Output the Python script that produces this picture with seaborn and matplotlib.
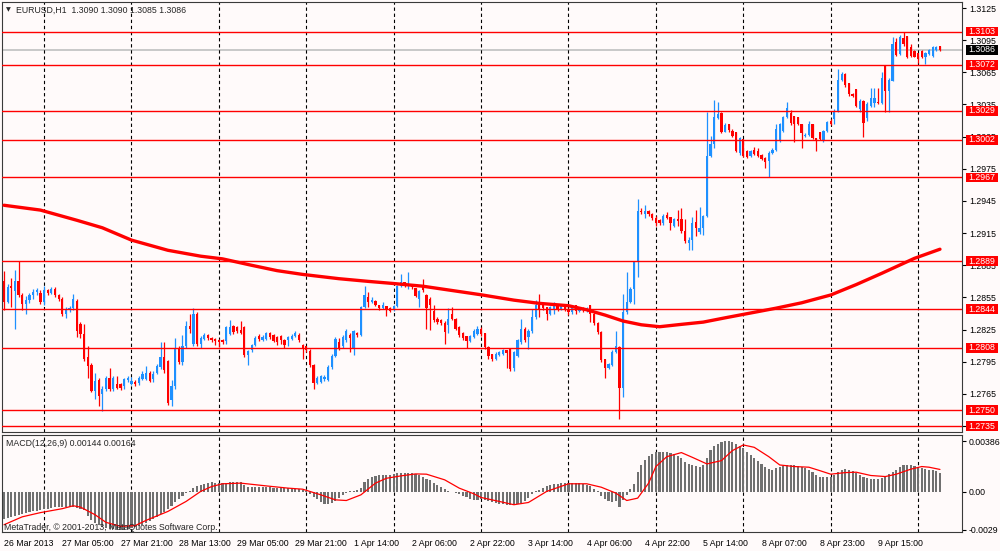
import matplotlib
matplotlib.use("Agg")
import numpy as np
import matplotlib.pyplot as plt
import matplotlib.transforms as mtrans
from matplotlib.patches import Rectangle
import seaborn as sns

# ---------------- data (prices in pips above 1.2700) ----------------
BASE = 1.2700
PIP = 0.0001

opens = [170,151,166,161,170,157,149,153,157,160, 159,151,162,159,163,157,154,140,143,145,
         152,130,121,99,92,68,78,65,70,80, 70,74,74,72,78,74,76,75,79,79,
         85,79,85,90,99,96,59,72,108,95, 110,128,112,140,112,116,120,117,116,115,
         115,114,121,128,127,125,127,101,106,111, 119,115,116,122,120,118,119,115,115,116,
         119,120,111,110,105,92,75,76,79,78, 90,100,113,110,115,120,107,122,120,146,
         155,151,152,148,145,147,145,143,147,166, 169,166,168,164,154,165,157,154,142,135,
         134,131,129,140,135,127,122,119,114,118, 121,126,122,109,102,98,101,102,106,107,
         89,100,113,126,118,124,137,148,149,146, 140,143,148,144,146,143,141,148,142,144,
         142,148,140,131,123,98,89,92,104,109, 71,141,151,163,188,236,233,236,233,229,
         227,224,232,230,222,228,228,217,206,209, 225,216,220,231,287,298,322,327,309,317,
         310,309,290,303,292,287,293,292,288,285, 282,290,293,301,310,323,327,324,323,317,
         306,307,317,304,309,302,310,320,321,328, 358,363,355,345,349,331,338,322,334,336,
         337,336,372,348,357,393,382,397,399,389, 385,383,385,379,382,380,386,390]
highs = [180,168,173,181,189,159,156,159,163,164, 162,166,163,165,165,158,155,146,147,158,
         154,132,130,110,94,85,80,72,82,89, 82,82,75,80,82,81,78,82,86,91,
         86,86,93,113,113,97,78,117,110,120, 133,140,145,141,119,122,121,118,117,116,
         116,128,134,129,128,133,128,106,112,119, 121,120,123,123,121,119,120,116,119,121,
         124,122,112,110,107,93,82,83,83,92, 102,118,117,120,126,122,125,123,147,166,
         160,155,153,148,151,147,146,148,167,177, 169,179,168,164,162,172,158,155,148,137,
         135,133,145,146,136,128,123,119,120,126, 128,127,122,110,102,104,105,107,106,108,
         105,116,135,127,126,144,153,158,150,146, 147,151,149,148,148,145,148,148,146,146,
         146,148,141,132,124,98,94,106,124,110, 158,179,165,189,247,238,241,237,234,231,
         228,233,235,230,229,237,238,228,211,230, 237,239,232,328,306,339,337,328,318,317,
         312,309,305,303,293,293,295,294,289,286, 292,294,317,318,324,337,330,324,323,317,
         308,320,317,304,309,311,320,321,331,368, 365,364,355,346,349,340,339,337,350,350,
         350,365,372,360,398,397,400,403,399,391, 386,383,386,384,387,390,390,390]
lows = [143,150,146,126,155,143,140,150,154,157, 149,148,157,158,155,152,138,136,141,143,
        118,117,96,80,67,60,54,49,68,68, 68,70,69,70,76,73,72,73,78,78,
        76,76,84,88,85,55,54,70,93,92, 108,122,110,110,108,115,115,113,111,109,
        112,112,120,121,122,121,99,92,104,110, 114,114,115,116,113,111,112,108,110,115,
        118,113,98,104,90,70,74,75,77,77, 88,99,106,108,113,104,101,118,119,145,
        146,150,147,143,144,138,141,142,146,165, 165,163,163,155,146,160,126,125,132,130,
        129,112,122,134,125,118,115,108,113,117, 120,119,107,98,96,97,100,101,89,86,
        86,99,112,113,107,122,135,137,143,134, 139,140,142,143,142,139,140,140,141,141,
        141,132,129,121,95,80,88,91,103,42, 62,140,150,149,174,233,229,231,227,222,
        223,223,228,218,221,222,215,206,199,199, 212,214,213,230,286,294,321,308,309,309,
        305,291,288,286,285,286,288,286,283,276, 267,289,292,300,309,322,316,300,316,294,
        305,306,303,292,302,300,309,316,317,328, 357,351,343,342,333,328,305,320,333,333,
        335,335,328,328,357,380,381,390,378,379, 379,374,378,373,381,379,385,385]
closes = [151,165,164,170,157,149,153,157,160,162, 151,162,159,163,157,154,140,143,145,154,
          124,121,98,91,68,77,63,70,80,70, 80,71,71,79,80,77,74,80,84,85,
          77,84,91,99,87,57,72,107,95,110, 128,126,140,112,117,120,117,115,114,113,
          113,127,127,123,124,122,101,105,111,117, 116,118,122,118,114,113,115,111,118,119,
          122,115,108,106,92,75,80,82,81,90, 100,116,107,118,124,117,124,120,146,157,
          151,153,148,145,148,144,142,147,166,169, 167,168,165,156,161,162,145,148,134,132,
          131,123,135,135,126,120,117,114,119,124, 126,121,109,100,98,102,104,106,103,88,
          104,115,126,115,124,137,148,143,145,140, 146,149,144,147,144,141,147,142,145,143,
          145,140,131,123,97,89,93,104,110,71, 141,151,163,188,236,235,236,233,229,224,
          224,231,229,224,228,226,217,208,209,224, 220,220,231,287,298,323,326,309,316,311,
          306,292,304,287,286,292,289,287,284,281, 290,293,312,317,323,332,318,317,317,308,
          307,317,304,302,303,310,319,317,329,358, 363,353,345,343,334,338,318,335,341,341,
          336,360,348,358,391,381,398,391,379,380, 379,377,379,383,386,389,389,386]

# moving average: bar index -> pips
ma_idx = [0,10,20,27,35,45,54,60,68,75,82,92,100,107,115,123,131,140,147,155,160,165,
          170,175,180,186,192,198,205,212,219,227,234,241,250,257]
ma_pips = [241,236.5,227,220,208.5,199,193.5,191,185,180,176.5,172.5,170,168,165.5,161.5,
           157.5,152.5,149.5,147.3,143.5,138.6,133,129.5,127.7,129.9,132,136,140.5,145,150,
           157.3,167,177.5,191.5,200]

# MACD histogram per bar (units of 1e-5)
macd_hist = [-207,-200,-192,-183,-175,-168,-161,-155,-149,-143, -137,-131,-127,-123,-119,-116,-115,-114,-115,-116,
             -120,-128,-140,-180,-215,-240,-255,-265,-274,-280, -285,-288,-289,-288,-284,-276,-268,-260,-250,-238,
             -224,-210,-192,-172,-152,-130,-105,-75,-55,-30, -8,10,28,42,53,60,68,71,70,66,
             66,70,72,71,74,78,55,40,38,37, 36,35,35,33,32,31,29,28,27,25,
             22,20,12,3,-15,-40,-55,-75,-90,-92, -84,-70,-50,-25,-10,3,8,13,30,75,
             95,110,121,124,126,128,130,135,140,144, 146,145,140,132,125,115,100,88,70,50,
             35,20,5,0,-8,-18,-28,-40,-55,-62, -65,-55,-62,-66,-78,-85,-91,-95,-97,-98,
             -98,-95,-85,-70,-45,-15,5,15,30,45, 52,60,63,65,66,66,66,66,66,60,
             52,45,20,10,-30,-55,-73,-80,-70,-116, -60,-25,20,60,150,200,240,270,290,305,
             305,306,305,295,290,270,255,230,215,205, 195,190,200,260,318,350,365,378,386,385,
             375,365,345,330,305,280,255,235,210,185, 170,168,178,190,198,205,205,200,196,192,
             180,165,150,130,116,116,116,116,125,150, 165,172,165,155,145,125,110,105,100,96,
             98,108,118,135,150,165,185,200,202,200, 196,188,180,175,168,162,155,144]

# MACD signal line (read points), units of 1e-5
sig_idx = [0,5,10,16,19,21,25,28,32,36,39,45,50,54,57,60,65,72,78,82,87,91,94,98,102,105,
           109,113,116,121,125,129,131,136,140,144,149,155,160,164,168,171,174,177,179,182,
           186,189,193,197,200,203,206,210,213,217,221,224,227,231,234,238,242,245,249,252,254,257]
sig_vals = [-250,-190,-158,-128,-106,-116,-174,-232,-262,-257,-217,-149,-73,3,40,61,66,45,28,20,
            -23,-61,-66,-23,66,103,121,136,134,91,28,-15,-43,-73,-98,-81,3,61,61,35,-10,-66,-48,
            66,192,267,298,262,212,237,313,356,338,267,204,192,187,161,134,146,149,124,116,134,
            172,192,187,170]

levels = [1.3103, 1.3072, 1.3029, 1.3002, 1.2967, 1.2889, 1.2844, 1.2808, 1.2750, 1.2735]
bid = 1.3086
price_ticks = [1.3125, 1.3095, 1.3065, 1.3035, 1.3005, 1.2975, 1.2945, 1.2915, 1.2885,
               1.2855, 1.2825, 1.2795, 1.2765, 1.2735]
time_label_idx = list(range(0, 241, 16))
time_labels = ["26 Mar 2013", "27 Mar 05:00", "27 Mar 21:00", "28 Mar 13:00", "29 Mar 05:00",
               "29 Mar 21:00", "1 Apr 14:00", "2 Apr 06:00", "2 Apr 22:00", "3 Apr 14:00",
               "4 Apr 06:00", "4 Apr 22:00", "5 Apr 14:00", "8 Apr 07:00", "8 Apr 23:00",
               "9 Apr 15:00"]
day_sep_idx = [11, 35, 59, 83, 107, 131, 155, 179, 203, 227, 251]

# ---------------- style ----------------
BG = "#FFFAFA"
BLUE = "#1E90FF"
RED = "#FF0000"
sns.set_style("white", {"axes.facecolor": BG, "figure.facecolor": BG,
                        "axes.edgecolor": "#3a3a3a"})
plt.rcParams["font.family"] = ["Liberation Sans", "DejaVu Sans"]
FS = 6.3

W, H = 1000, 551
fig = plt.figure(figsize=(W / 100, H / 100), dpi=100, facecolor=BG)
ax = fig.add_axes([2 / W, 1 - 432 / H, 960 / W, 430 / H])
axm = fig.add_axes([2 / W, 1 - 532 / H, 960 / W, 97 / H])

o = BASE + np.array(opens) * PIP
h = BASE + np.array(highs) * PIP
l = BASE + np.array(lows) * PIP
c = BASE + np.array(closes) * PIP
idx = np.arange(len(c))
up = c > o
cols = np.where(up, BLUE, RED)

# candles
ax.vlines(idx, l, h, colors=cols, lw=0.9, zorder=2)
body_bot = np.minimum(o, c)
body_h = np.maximum(np.abs(c - o), 0.6 * PIP)
ax.bar(idx, body_h, bottom=body_bot, width=0.62, color=cols, linewidth=0, zorder=2.2)

# bid line
ax.axhline(bid, color="#C8C8C8", lw=1.4, zorder=1)

# moving average
sns.lineplot(x=ma_idx, y=BASE + np.array(ma_pips) * PIP, ax=ax, color=RED, lw=2.4,
             estimator=None, sort=False, zorder=3)

# levels
for lv in levels:
    ax.axhline(lv, color=RED, lw=1.0, zorder=4)

for s in day_sep_idx:
    ax.axvline(s, color="black", lw=0.8, ls=(0, (3, 2.5)), zorder=1.2)
    axm.axvline(s, color="black", lw=0.8, ls=(0, (3, 2.5)), zorder=1.2)

XL = (-0.55, 263.05)
ax.set_xlim(*XL)
ax.set_ylim(1.27295, 1.31306)
ax.set_xticks([])
ax.yaxis.tick_right()
ax.set_yticks(price_ticks)
ax.set_yticklabels([f"{t:.4f}" for t in price_ticks])
ax.tick_params(axis="y", length=3, width=0.8, labelsize=FS, pad=2, colors="black",
               direction="out")
ax.set_ylabel("")
ax.set_xlabel("")

# level labels on the right
blend = mtrans.blended_transform_factory(fig.transFigure, ax.transData)
box_h = 9.5 * 0.0001 / 1.072
for lv in levels + [bid]:
    fc = "black" if lv == bid else RED
    ax.add_patch(Rectangle((966 / W, lv - box_h / 2), 32 / W, box_h, transform=blend,
                           facecolor=fc, edgecolor="none", clip_on=False, zorder=10))
    ax.text(982 / W, lv, f"{lv:.4f}", transform=blend, ha="center", va="center",
            color="white", fontsize=FS, clip_on=False, zorder=11)

# MACD panel
hist = np.array(macd_hist) * 1e-5
axm.bar(idx, hist, width=0.58, color="#707070", linewidth=0, zorder=2)
sns.lineplot(x=sig_idx, y=np.array(sig_vals) * 1e-5, ax=axm, color=RED, lw=0.9,
             estimator=None, sort=False, zorder=3)
axm.set_xlim(*XL)
axm.set_ylim(-0.003052, 0.004316)
axm.yaxis.tick_right()
axm.set_yticks([0.00386, 0.0, -0.0029])
axm.set_yticklabels(["0.00386", "0.00", "-0.0029"])
axm.tick_params(axis="y", length=3, width=0.8, labelsize=FS, pad=2, colors="black")
axm.set_xticks(time_label_idx)
axm.set_xticklabels(time_labels)
axm.tick_params(axis="x", length=3, width=0.8, labelsize=FS, pad=2, colors="black")
for lbl in axm.get_xticklabels():
    lbl.set_ha("left")
axm.set_ylabel("")
axm.set_xlabel("")

for a in (ax, axm):
    for sp in a.spines.values():
        sp.set_visible(True)
        sp.set_color("#3a3a3a")
        sp.set_linewidth(0.8)

# texts
fig.text(6 / W, 1 - 10 / H, "\u25BC", fontsize=4.5, va="center", ha="left",
         family=["DejaVu Sans"])
fig.text(16 / W, 1 - 10 / H, "EURUSD,H1  1.3090 1.3090 1.3085 1.3086", fontsize=FS,
         va="center", ha="left")
fig.text(6 / W, 1 - 444 / H, "MACD(12,26,9) 0.00144 0.00164", fontsize=FS,
         va="center", ha="left")
fig.text(4 / W, 1 - 527 / H, "MetaTrader, \u00A9 2001-2013, MetaQuotes Software Corp.",
         fontsize=FS, va="center", ha="left", zorder=20)

fig.savefig("out.png", dpi=100, facecolor=BG)
